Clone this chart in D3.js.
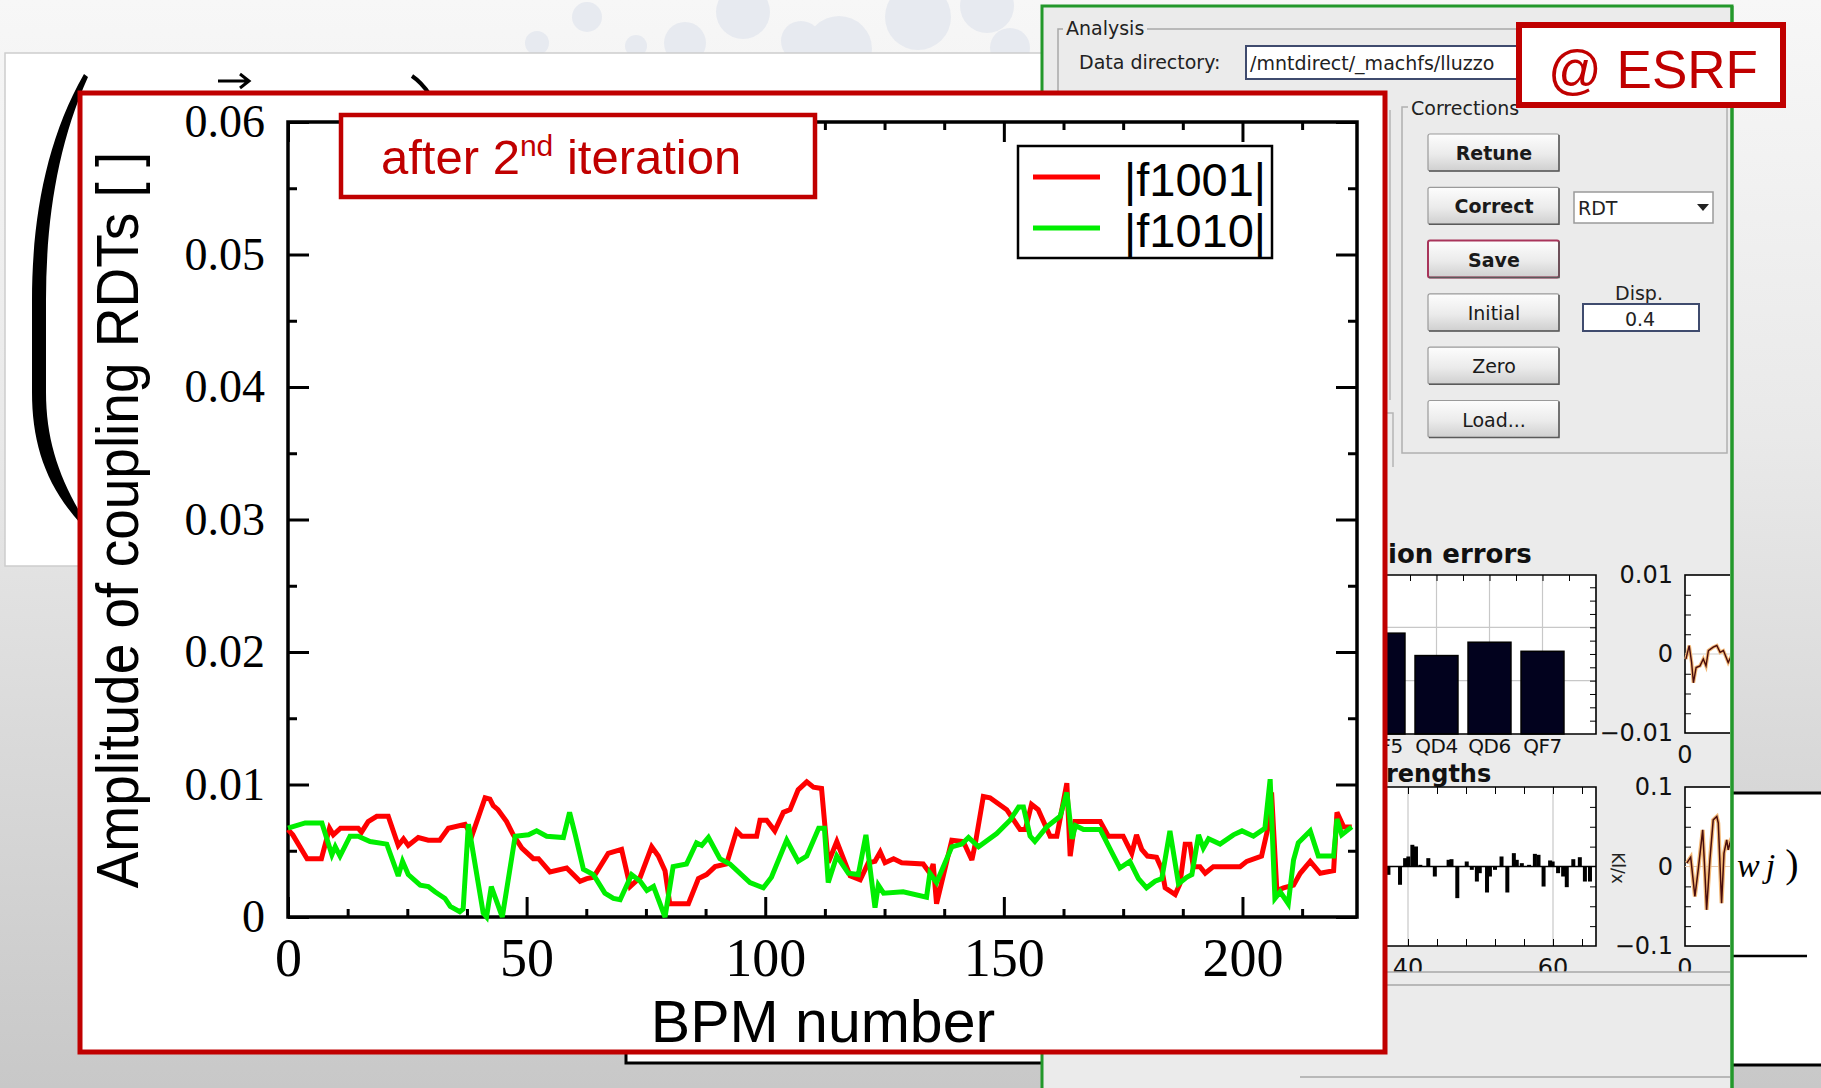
<!DOCTYPE html>
<html>
<head>
<meta charset="utf-8">
<script src="https://cdn.jsdelivr.net/npm/d3@7"></script>
<style>
  html, body { margin: 0; padding: 0; overflow: hidden; background: #e8e8e8; }
  svg { display: block; }
</style>
</head>
<body>
<script>
// Coupling resonance driving terms along the ring, after the 2nd correction iteration.
// Each entry: [BPM number, amplitude]
const f1001 = [
  [0,.0066],[1,.0062],[4,.0044],[7,.0044],[8.7,.0067],[9.5,.0062],[11,.0067],[14.7,.0067],
  [15.4,.0064],[16.8,.0072],[18.6,.0076],[21,.0076],[23.1,.0054],[24.2,.0059],[25.2,.0054],
  [27.3,.0060],[29.4,.0058],[31.8,.0058],[33.6,.0067],[37.1,.0070],[38.5,.0061],[41.3,.0090],
  [42.3,.0089],[43,.0084],[44,.0081],[45.8,.0072],[47.2,.0062],[49,.0052],[51.4,.0044],
  [52.5,.0044],[54.9,.0034],[58.4,.0037],[61.2,.0027],[62.6,.0029],[64,.0030],[67.1,.0048],
  [69.9,.0051],[71.7,.0023],[73.8,.0030],[76.2,.0053],[77.6,.0046],[79,.0035],[80,.0010],
  [83.9,.0010],[86,.0029],[87.7,.0032],[89.5,.0038],[91.9,.0040],[94,.0065],[95.1,.0061],
  [98.2,.0061],[98.9,.0073],[100.3,.0073],[102,.0065],[103.8,.0079],[105.2,.0081],[106.9,.0096],
  [108.7,.0102],[110.1,.0098],[111.8,.0097],[113.2,.0041],[115,.0057],[117.8,.0031],[119.9,.0028],
  [121.6,.0041],[123,.0042],[124.1,.0049],[125.1,.0041],[126.9,.0044],[128.6,.0041],[133.1,.0040],
  [134.5,.0033],[135.2,.0040],[135.9,.0010],[137.3,.0031],[139.1,.0058],[141.5,.0057],[143.3,.0043],
  [144,.0055],[145.7,.0091],[147.1,.0090],[150.6,.0081],[153.4,.0066],[154.5,.0066],[155.8,.0085],
  [157.2,.0081],[159.7,.0061],[161.1,.0061],[163.2,.0101],[163.9,.0046],[164.9,.0072],[170.2,.0072],
  [171.9,.0061],[175,.0061],[176.8,.0048],[177.8,.0062],[178.9,.0051],[180.1,.0046],[182,.0045],
  [183.1,.0036],[183.8,.0022],[185.9,.0017],[186.9,.0025],[188,.0055],[189,.0055],[189.7,.0038],
  [191.1,.0038],[192.2,.0033],[193.9,.0038],[199.5,.0038],[200.9,.0042],[204,.0046],[205.4,.0068],
  [206.1,.0094],[207.2,.0020],[208.6,.0022],[210.7,.0024],[212.1,.0033],[214.2,.0042],[216.3,.0033],
  [219.1,.0035],[219.8,.0079],[221.2,.0068],[222.9,.0068]
];
const f1010 = [
  [0,.0067],[3.6,.0071],[7.1,.0071],[9.2,.0047],[9.9,.0053],[10.9,.0046],[13,.0061],[14.7,.0061],
  [17.2,.0057],[20.7,.0055],[23.1,.0031],[24,.0042],[25.2,.0032],[27.7,.0024],[29.4,.0023],
  [30.8,.0019],[32.9,.0014],[34,.0008],[36,.0004],[36.7,.0006],[37.8,.0070],[40.9,.0003],
  [41.6,.0000],[42.6,.0023],[44.4,.0005],[44.9,.0000],[47.6,.0061],[50.4,.0062],[52.1,.0065],
  [54.2,.0061],[57.7,.0060],[59,.0079],[60.2,.0062],[61.9,.0036],[64,.0032],[66.4,.0018],
  [68.2,.0014],[69.6,.0013],[72,.0032],[73.8,.0027],[75.2,.0020],[76.6,.0023],[79,.0000],
  [80.7,.0038],[83.5,.0040],[85.6,.0056],[86.7,.0054],[88.1,.0060],[90.5,.0044],[92.6,.0040],
  [96.8,.0026],[99.6,.0022],[101.3,.0030],[104.5,.0058],[106.9,.0042],[108.7,.0046],[111.2,.0067],
  [112.4,.0067],[113.2,.0026],[115,.0046],[117.4,.0033],[119.5,.0032],[121.1,.0062],[123,.0007],
  [123.7,.0024],[124.8,.0018],[128.9,.0019],[133.8,.0015],[134.5,.0033],[135.9,.0026],[139.1,.0053],
  [141.2,.0055],[142.6,.0060],[144.7,.0053],[148.5,.0063],[151.3,.0073],[153.1,.0083],[154.1,.0083],
  [155.5,.0061],[156.5,.0057],[159,.0068],[161.8,.0076],[163.2,.0094],[164.3,.0059],[165,.0069],
  [166.7,.0066],[170.2,.0066],[172.3,.0051],[174.3,.0037],[176.4,.0042],[178.2,.0029],[179.9,.0022],
  [181.7,.0027],[183.1,.0029],[184.8,.0065],[186.6,.0025],[188.3,.0030],[189.4,.0032],[190.8,.0062],
  [191.8,.0052],[192.9,.0059],[195.3,.0055],[198.1,.0062],[199.9,.0065],[202.3,.0061],[204.7,.0067],
  [205.8,.0104],[206.8,.0014],[207.9,.0019],[209.6,.0010],[210.7,.0043],[211.7,.0056],[214.2,.0065],
  [215.9,.0046],[219.1,.0046],[219.8,.0074],[220.8,.0062],[222.9,.0068]
];
const seriesNames = ["|f1001|", "|f1010|"];
const yMajorTicks = [0, 0.01, 0.02, 0.03, 0.04, 0.05, 0.06];
const yMinorTicks = [0.005, 0.015, 0.025, 0.035, 0.045, 0.055];
const xMajorTicks = [0, 50, 100, 150, 200];
const xMinorTicks = [12.5, 25, 37.5, 62.5, 75, 87.5, 112.5, 125, 137.5, 162.5, 175, 187.5, 212.5];

// Correction tool panel: rotation errors per family, corrector strengths, orbit traces
const errFamilies = ["QF5", "QD4", "QD6", "QF7"];
const errValues = [1.89, 1.47, 1.72, 1.55];
const strengths = [
  [37.3,-.105],[38.9,-.23],[39.6,.105],[40.05,.126],[40.6,.273],[41.1,.252],[41.7,.021],[42.8,.105],
  [43.7,-.126],[45.6,.084],[46.0,.092],[46.8,-.398],[48.1,.063],[48.8,-.042],[49.5,-.189],[49.9,-.084],
  [50.9,-.327],[51.3,-.126],[52.0,-.042],[52.9,.126],[53.7,-.327],[54.6,.168],[55.0,.084],[55.7,.042],
  [56.7,.021],[57.5,.159],[58.0,.147],[58.7,-.252],[59.6,.076],[59.95,.063],[60.7,-.084],[61.4,-.126],
  [61.9,-.26],[62.8,.092],[63.7,.117],[64.4,-.189],[65.1,-.189]
];
const residualTrace = [
  [0.3,-.00064],[1.4,.00107],[2.2,-.00107],[2.8,-.00364],[3.7,-.00171],[5,-.0015],[6.1,-.00064],
  [7,-.0015],[7.8,.00043],[9.4,.00086],[10.6,.00107],[11.7,.00021],[12.8,.00043],[14.4,-.00107],[16,.0002]
];
const beatTrace = [
  [0.6,.0042],[1.9,.0117],[3.3,-.0377],[4.4,-.0042],[5.9,.0461],[6.7,-.0126],[7.2,-.0545],[8.3,.0084],
  [9.4,.0587],[10.6,.0629],[11.1,.0545],[12.2,-.0461],[13,.0168],[13.9,.0335],[14.4,.021],[15,.0293],[16,.02]
];
const buttonLabels = ["Retune", "Correct", "Save", "Initial", "Zero", "Load..."];

const W = 1821, H = 1088;
const svg = d3.select("body").append("svg").attr("width", W).attr("height", H);
const defs = svg.append("defs");

function vGrad(id, stops) {
  const g = defs.append("linearGradient").attr("id", id)
    .attr("x1", 0).attr("y1", 0).attr("x2", 0).attr("y2", 1);
  stops.forEach(([o, c]) => g.append("stop").attr("offset", o).attr("stop-color", c));
}
vGrad("page", [["0%", "#f7f7f7"], ["40%", "#e9e9e9"], ["100%", "#c8c8c8"]]);
vGrad("btn", [["0%", "#fdfdfd"], ["55%", "#ebebeb"], ["100%", "#cfcfcf"]]);

// ---------- slide background ----------
svg.append("rect").attr("width", W).attr("height", H).attr("fill", "url(#page)");
const bubbles = [[537,43,12],[587,17,15],[636,46,11],[685,43,21],[743,12,27],[801,41,20],[839,49,33],[918,17,33],[987,6,27],[1010,48,20]];
svg.append("g").selectAll("circle").data(bubbles).join("circle")
  .attr("cx", d => d[0]).attr("cy", d => d[1]).attr("r", d => d[2])
  .attr("fill", "#e7eaf0");

// equation panel behind the plot
svg.append("rect").attr("x", 5).attr("y", 53).attr("width", 1060).attr("height", 513)
  .attr("fill", "#fff").attr("stroke", "#cdcdcd").attr("stroke-width", 1.5);
svg.append("path")
  .attr("d", "M84,74 C46,140 32,220 32,300 L32,392 C32,442 45,484 80,523 L84,519 C59,478 46,440 46,392 L46,300 C46,222 57,146 88,77 Z")
  .attr("fill", "#000");
svg.append("path").attr("d", "M218,81 H248 M240,74 L249,81 L240,88")
  .attr("fill", "none").attr("stroke", "#000").attr("stroke-width", 3);
svg.append("path").attr("d", "M412,76 C418,80 424,86 430,95")
  .attr("fill", "none").attr("stroke", "#000").attr("stroke-width", 4);

// formula box on the far right
svg.append("rect").attr("x", 1733).attr("y", 793).attr("width", 90).attr("height", 272).attr("fill", "#fff");
svg.append("path").attr("d", "M1733,793 H1821 M1733,1065 H1821").attr("stroke", "#000").attr("stroke-width", 3);
svg.append("path").attr("d", "M1733,956 H1807").attr("stroke", "#000").attr("stroke-width", 2.5);
const wj = svg.append("text").attr("x", 1737).attr("y", 877)
  .attr("font-family", "Liberation Serif, serif").attr("font-size", 34);
wj.append("tspan").attr("font-style", "italic").text("w");
wj.append("tspan").attr("font-style", "italic").attr("dx", 6).text("j");
wj.append("tspan").attr("dx", 10).attr("font-size", 40).text(")");

// framed box under the plot
svg.append("rect").attr("x", 626).attr("y", 950).attr("width", 440).attr("height", 113)
  .attr("fill", "#fff").attr("stroke", "#000").attr("stroke-width", 3);

// ---------- correction tool window ----------
const gui = svg.append("g");
const guiFont = "DejaVu Sans, Verdana, sans-serif";
gui.append("rect").attr("x", 1042).attr("y", 6).attr("width", 690).attr("height", 1095)
  .attr("fill", "#ebebeb").attr("stroke", "#23982b").attr("stroke-width", 3);

gui.append("path").attr("d", "M1058,110 V29 H1063 M1147,29 H1620")
  .attr("fill", "none").attr("stroke", "#a9a9a9").attr("stroke-width", 1.5);
gui.append("text").attr("x", 1066).attr("y", 35).attr("font-family", guiFont).attr("font-size", 19)
  .attr("fill", "#222").text("Analysis");
gui.append("text").attr("x", 1079).attr("y", 69).attr("font-family", guiFont).attr("font-size", 19)
  .attr("fill", "#222").text("Data directory:");
gui.append("rect").attr("x", 1246).attr("y", 46).attr("width", 285).attr("height", 33)
  .attr("fill", "#fff").attr("stroke", "#3f4b6e").attr("stroke-width", 2);
gui.append("text").attr("x", 1250).attr("y", 70).attr("font-family", guiFont).attr("font-size", 19)
  .attr("fill", "#222").text("/mntdirect/_machfs/lluzzo");

// group frames left of the corrections group
gui.append("path").attr("d", "M1390,110 V400 M1386,413 H1393 V467")
  .attr("fill", "none").attr("stroke", "#b5b5b5").attr("stroke-width", 1.5);

// corrections group
gui.append("rect").attr("x", 1402).attr("y", 107).attr("width", 325).attr("height", 346)
  .attr("fill", "none").attr("stroke", "#b0b0b0").attr("stroke-width", 1.5);
gui.append("rect").attr("x", 1408).attr("y", 98).attr("width", 122).attr("height", 20).attr("fill", "#ebebeb");
gui.append("text").attr("x", 1411).attr("y", 115).attr("font-family", guiFont).attr("font-size", 19)
  .attr("fill", "#222").text("Corrections");

const btn = gui.append("g").selectAll("g").data(buttonLabels).join("g")
  .attr("transform", (d, i) => `translate(1428,${134 + i * 53.3})`);
btn.append("rect").attr("width", 131).attr("height", 37).attr("rx", 2)
  .attr("fill", "url(#btn)")
  .attr("stroke", d => d === "Save" ? "#a8345a" : "#9a9a9a")
  .attr("stroke-width", d => d === "Save" ? 2 : 1.2);
btn.append("path").attr("d", "M1,37 H131 V1").attr("fill", "none").attr("stroke", "#5a5a5a").attr("stroke-width", 1.5);
btn.append("text").attr("x", 66).attr("y", 26).attr("text-anchor", "middle")
  .attr("font-family", guiFont).attr("font-size", 19)
  .attr("font-weight", (d, i) => i < 3 ? "bold" : "normal")
  .attr("fill", "#1a1a1a").text(d => d);

// method selector
gui.append("rect").attr("x", 1574).attr("y", 192).attr("width", 139).attr("height", 31)
  .attr("fill", "#fff").attr("stroke", "#9a9a9a").attr("stroke-width", 1.5);
gui.append("text").attr("x", 1578).attr("y", 215).attr("font-family", guiFont).attr("font-size", 19)
  .attr("fill", "#222").text("RDT");
gui.append("path").attr("d", "M1697,204 L1709,204 L1703,211 Z").attr("fill", "#222");

gui.append("text").attr("x", 1639).attr("y", 300).attr("text-anchor", "middle")
  .attr("font-family", guiFont).attr("font-size", 19).attr("fill", "#222").text("Disp.");
gui.append("rect").attr("x", 1583).attr("y", 304).attr("width", 116).attr("height", 27)
  .attr("fill", "#fff").attr("stroke", "#3f4b6e").attr("stroke-width", 2);
gui.append("text").attr("x", 1640).attr("y", 326).attr("text-anchor", "middle")
  .attr("font-family", guiFont).attr("font-size", 19).attr("fill", "#222").text("0.4");

// rotation errors bar chart
gui.append("text").attr("x", 1388).attr("y", 563).attr("font-family", guiFont).attr("font-size", 26)
  .attr("font-weight", "bold").attr("fill", "#111").text("ion errors");
const eb = { l: 1357, r: 1596, t: 575, b: 734 };
const exS = d3.scaleBand().domain(errFamilies).range([1357, 1569]).paddingInner(0.19).paddingOuter(0.095);
const eyS = d3.scaleLinear().domain([0, 2.98]).range([eb.b, eb.t]);
gui.append("rect").attr("x", eb.l).attr("y", eb.t).attr("width", eb.r - eb.l).attr("height", eb.b - eb.t).attr("fill", "#fff");
gui.append("g").selectAll("line.gy").data([1, 2]).join("line")
  .attr("x1", eb.l).attr("x2", eb.r).attr("y1", d => eyS(d)).attr("y2", d => eyS(d))
  .attr("stroke", "#c8c8c8").attr("stroke-width", 1.2);
gui.append("g").selectAll("line.gx").data(errFamilies.slice(1)).join("line")
  .attr("x1", d => exS(d) + exS.bandwidth() / 2).attr("x2", d => exS(d) + exS.bandwidth() / 2)
  .attr("y1", eb.t).attr("y2", eb.b).attr("stroke", "#c8c8c8").attr("stroke-width", 1.2);
gui.append("g").selectAll("rect").data(errValues).join("rect")
  .attr("x", (d, i) => exS(errFamilies[i])).attr("width", exS.bandwidth())
  .attr("y", d => eyS(d)).attr("height", d => eyS(0) - eyS(d))
  .attr("fill", "#02021e").attr("stroke", "#000").attr("stroke-width", 1.5);
gui.append("g").attr("transform", `translate(${eb.r},0)`)
  .call(d3.axisRight(eyS).tickValues(d3.range(0.25, 2.9, 0.25)).tickSize(-6).tickFormat(""))
  .call(g => g.select(".domain").remove());
gui.append("g").attr("transform", `translate(0,${eb.t})`)
  .call(d3.axisTop(d3.scaleLinear().domain([0, 8]).range([1357, 1569])).tickValues([1,2,3,4,5,6,7,8]).tickSize(-6).tickFormat(""))
  .call(g => g.select(".domain").remove());
gui.append("path").attr("d", `M${eb.l},${eb.t} H${eb.r} V${eb.b} H${eb.l}`)
  .attr("fill", "none").attr("stroke", "#000").attr("stroke-width", 1.6);
gui.append("g").selectAll("text").data(errFamilies).join("text")
  .attr("x", d => exS(d) + exS.bandwidth() / 2).attr("y", 753).attr("text-anchor", "middle")
  .attr("font-family", guiFont).attr("font-size", 20).attr("letter-spacing", -0.5)
  .attr("fill", "#111").text(d => d);

// residual orbit trace
const smallFont = { "font-family": guiFont, "font-size": 24, "fill": "#111" };
function small(g, attrs) { Object.entries(attrs).forEach(([k, v]) => g.attr(k, v)); return g; }
defs.append("clipPath").attr("id", "guiClip").append("rect").attr("x", 1042).attr("y", 6).attr("width", 688).attr("height", 1082);
const pa = { l: 1685, t: 575, b: 733 };
const paX = d3.scaleLinear().domain([0, 1]).range([1685, 1688]);
const paY = d3.scaleLinear().domain([-0.01, 0.01]).range([pa.b, pa.t]);
const clipG = gui.append("g").attr("clip-path", "url(#guiClip)");
clipG.append("rect").attr("x", pa.l).attr("y", pa.t).attr("width", 80).attr("height", pa.b - pa.t)
  .attr("fill", "#fff").attr("stroke", "#000").attr("stroke-width", 1.6);
clipG.append("line").attr("x1", pa.l).attr("x2", pa.l + 80).attr("y1", paY(0)).attr("y2", paY(0)).attr("stroke", "#ccc");
clipG.append("g").attr("transform", `translate(${pa.l},0)`)
  .call(d3.axisLeft(paY).tickValues(d3.range(-0.0075, 0.0076, 0.0025)).tickSize(-6).tickFormat(""))
  .call(g => g.select(".domain").remove());
const lineA = d3.line().x(d => paX(d[0])).y(d => paY(d[1]));
clipG.append("path").datum(residualTrace).attr("d", lineA).attr("fill", "none").attr("stroke", "#f3b978").attr("stroke-width", 3.5);
clipG.append("path").datum(residualTrace).attr("d", lineA).attr("fill", "none").attr("stroke", "#4a0c0c").attr("stroke-width", 1.4);
gui.append("g").selectAll("text").data([0.01, 0, -0.01]).join("text")
  .attr("x", 1673).attr("y", d => paY(d) + 8).attr("text-anchor", "end")
  .each(function () { small(d3.select(this), smallFont); })
  .text(d => d === 0 ? "0" : d3.format(".2f")(d));
small(gui.append("text").attr("x", 1685).attr("y", 763).attr("text-anchor", "middle"), smallFont).text("0");

// corrector strengths
gui.append("text").attr("x", 1386).attr("y", 782).attr("font-family", guiFont).attr("font-size", 24)
  .attr("font-weight", "bold").attr("fill", "#111").text("rengths");
const sb = { l: 1357, r: 1596, t: 787, b: 946 };
const sxS = d3.scaleLinear().domain([40, 60]).range([1408, 1553]);
const syS = d3.scaleLinear().domain([-1, 1]).range([sb.b, sb.t]);
gui.append("rect").attr("x", sb.l).attr("y", sb.t).attr("width", sb.r - sb.l).attr("height", sb.b - sb.t).attr("fill", "#fff");
gui.append("g").selectAll("line").data([40, 60]).join("line")
  .attr("x1", d => sxS(d)).attr("x2", d => sxS(d)).attr("y1", sb.t).attr("y2", sb.b)
  .attr("stroke", "#c8c8c8").attr("stroke-width", 1.2);
gui.append("line").attr("x1", sb.l).attr("x2", sb.r).attr("y1", syS(0)).attr("y2", syS(0)).attr("stroke", "#000").attr("stroke-width", 1.6);
gui.append("g").selectAll("rect").data(strengths).join("rect")
  .attr("x", d => sxS(d[0]) - 2).attr("width", 4)
  .attr("y", d => syS(Math.max(0, d[1]))).attr("height", d => Math.abs(syS(d[1]) - syS(0)))
  .attr("fill", "#000");
[["axisTop", sb.t], ["axisBottom", sb.b]].forEach(([ax, yy]) => {
  gui.append("g").attr("transform", `translate(0,${yy})`)
    .call(d3[ax](sxS).tickValues([36, 40, 44, 48, 52, 56, 60, 64]).tickSize(-7).tickFormat(""))
    .call(g => g.select(".domain").remove());
});
gui.append("g").attr("transform", `translate(${sb.r},0)`)
  .call(d3.axisRight(syS).tickValues([-0.75, -0.5, -0.25, 0.25, 0.5, 0.75]).tickSize(-6).tickFormat(""))
  .call(g => g.select(".domain").remove());
gui.append("path").attr("d", `M${sb.l},${sb.t} H${sb.r} V${sb.b} H${sb.l}`)
  .attr("fill", "none").attr("stroke", "#000").attr("stroke-width", 1.6);
gui.append("text").attr("transform", "translate(1612,868) rotate(90)").attr("text-anchor", "middle")
  .attr("font-family", guiFont).attr("font-size", 17).attr("fill", "#222").text("Kl/x");
gui.append("g").selectAll("text").data([40, 60]).join("text")
  .attr("x", d => sxS(d)).attr("y", 976).attr("text-anchor", "middle")
  .each(function () { small(d3.select(this), smallFont); }).text(d => d);

// beating trace
const pb = { l: 1685, t: 787, b: 946 };
const pbY = d3.scaleLinear().domain([-0.1, 0.1]).range([pb.b, pb.t]);
clipG.append("rect").attr("x", pb.l).attr("y", pb.t).attr("width", 80).attr("height", pb.b - pb.t)
  .attr("fill", "#fff").attr("stroke", "#000").attr("stroke-width", 1.6);
clipG.append("line").attr("x1", pb.l).attr("x2", pb.l + 80).attr("y1", pbY(0)).attr("y2", pbY(0)).attr("stroke", "#e6c8b0");
clipG.append("g").attr("transform", `translate(${pb.l},0)`)
  .call(d3.axisLeft(pbY).tickValues([-0.075, -0.05, -0.025, 0.025, 0.05, 0.075]).tickSize(-6).tickFormat(""))
  .call(g => g.select(".domain").remove());
const lineB = d3.line().x(d => paX(d[0])).y(d => pbY(d[1]));
clipG.append("path").datum(beatTrace).attr("d", lineB).attr("fill", "none").attr("stroke", "#f3b978").attr("stroke-width", 4);
clipG.append("path").datum(beatTrace).attr("d", lineB).attr("fill", "none").attr("stroke", "#4a0c0c").attr("stroke-width", 1.5);
gui.append("g").selectAll("text").data([0.1, 0, -0.1]).join("text")
  .attr("x", 1673).attr("y", d => pbY(d) + 8).attr("text-anchor", "end")
  .each(function () { small(d3.select(this), smallFont); })
  .text(d => d === 0 ? "0" : d3.format(".1f")(d));
small(gui.append("text").attr("x", 1685).attr("y", 976).attr("text-anchor", "middle"), smallFont).text("0");

// lower strip of the window
gui.append("rect").attr("x", 1300).attr("y", 972).attr("width", 430).attr("height", 116).attr("fill", "#ebebeb");
gui.append("path").attr("d", "M1300,972 H1730 M1300,985 H1730 M1300,1077 H1730")
  .attr("stroke", "#a8a8a8").attr("stroke-width", 1.5);
gui.append("line").attr("x1", 1732).attr("x2", 1732).attr("y1", 6).attr("y2", 1088).attr("stroke", "#23982b").attr("stroke-width", 3);

// ---------- main plot ----------
svg.append("rect").attr("x", 80).attr("y", 93).attr("width", 1305).attr("height", 959)
  .attr("fill", "#fff").attr("stroke", "#c00000").attr("stroke-width", 5);

const plot = { l: 288, r: 1357, t: 122, b: 917 };
const x = d3.scaleLinear().domain([0, 224]).range([plot.l, plot.r]);
const y = d3.scaleLinear().domain([0, 0.06]).range([plot.b, plot.t]);
const serif = "Liberation Serif, Times New Roman, serif";
const sans = "Liberation Sans, Arial, Helvetica, sans-serif";

function styleAxis(g) {
  g.select(".domain").remove();
  g.selectAll(".tick line").attr("stroke", "#000").attr("stroke-width", 3);
}
const yFmt = d => d === 0 ? "0" : d3.format(".2f")(d);

svg.append("g").attr("transform", `translate(${plot.l},0)`)
  .call(d3.axisLeft(y).tickValues(yMajorTicks).tickSize(-21).tickPadding(23).tickFormat(yFmt))
  .call(styleAxis)
  .call(g => g.selectAll("text").attr("font-family", serif).attr("font-size", 46).attr("fill", "#000"));
svg.append("g").attr("transform", `translate(${plot.l},0)`)
  .call(d3.axisLeft(y).tickValues(yMinorTicks).tickSize(-9).tickFormat("")).call(styleAxis);
svg.append("g").attr("transform", `translate(${plot.r},0)`)
  .call(d3.axisRight(y).tickValues(yMajorTicks).tickSize(-21).tickFormat("")).call(styleAxis);
svg.append("g").attr("transform", `translate(${plot.r},0)`)
  .call(d3.axisRight(y).tickValues(yMinorTicks).tickSize(-9).tickFormat("")).call(styleAxis);

svg.append("g").attr("transform", `translate(0,${plot.b})`)
  .call(d3.axisBottom(x).tickValues(xMajorTicks).tickSize(-20).tickPadding(21).tickFormat(d3.format("d")))
  .call(styleAxis)
  .call(g => g.selectAll("text").attr("font-family", serif).attr("font-size", 54).attr("fill", "#000"));
svg.append("g").attr("transform", `translate(0,${plot.b})`)
  .call(d3.axisBottom(x).tickValues(xMinorTicks).tickSize(-8).tickFormat("")).call(styleAxis);
svg.append("g").attr("transform", `translate(0,${plot.t})`)
  .call(d3.axisTop(x).tickValues(xMajorTicks).tickSize(-20).tickFormat("")).call(styleAxis);
svg.append("g").attr("transform", `translate(0,${plot.t})`)
  .call(d3.axisTop(x).tickValues(xMinorTicks).tickSize(-8).tickFormat("")).call(styleAxis);

svg.append("rect").attr("x", plot.l).attr("y", plot.t).attr("width", plot.r - plot.l).attr("height", plot.b - plot.t)
  .attr("fill", "none").attr("stroke", "#000").attr("stroke-width", 3.5);

// axis titles
svg.append("text").attr("transform", "translate(138,520) scale(1.08,1) rotate(-90)")
  .attr("text-anchor", "middle").attr("font-family", sans).attr("font-size", 55).attr("fill", "#000")
  .text("Amplitude of coupling RDTs [ ]");
svg.append("text").attr("x", 823).attr("y", 1042).attr("text-anchor", "middle")
  .attr("font-family", sans).attr("font-size", 59).attr("fill", "#000").text("BPM number");

// data lines
const line = d3.line().x(d => x(d[0])).y(d => y(d[1]));
const colors = ["#ff0000", "#00ee00"];
[f1001, f1010].forEach((s, i) => {
  svg.append("path").datum(s).attr("d", line).attr("fill", "none")
    .attr("stroke", colors[i]).attr("stroke-width", 5)
    .attr("stroke-linejoin", "miter").attr("stroke-miterlimit", 3);
});

// legend
svg.append("rect").attr("x", 1018).attr("y", 146).attr("width", 254).attr("height", 112)
  .attr("fill", "#fff").attr("stroke", "#000").attr("stroke-width", 2.5);
const leg = svg.append("g").selectAll("g").data(seriesNames).join("g")
  .attr("transform", (d, i) => `translate(0,${177 + i * 51})`);
leg.append("line").attr("x1", 1033).attr("x2", 1100).attr("y1", 0).attr("y2", 0)
  .attr("stroke", (d, i) => colors[i]).attr("stroke-width", 5);
leg.append("text").attr("x", 1124).attr("y", 19).attr("font-family", sans).attr("font-size", 47)
  .attr("fill", "#000").text(d => d);

// iteration label
svg.append("rect").attr("x", 341).attr("y", 115).attr("width", 474).attr("height", 82)
  .attr("fill", "#fff").attr("stroke", "#c00000").attr("stroke-width", 4.5);
const title = svg.append("text").attr("x", 381).attr("y", 174).attr("font-family", sans)
  .attr("font-size", 49).attr("fill", "#c00000");
title.append("tspan").text("after 2");
title.append("tspan").attr("font-size", 30).attr("dy", -18).text("nd");
title.append("tspan").attr("dy", 18).text(" iteration");

// site label
svg.append("rect").attr("x", 1519).attr("y", 25).attr("width", 264).attr("height", 80)
  .attr("fill", "#fff").attr("stroke", "#c00000").attr("stroke-width", 6);
svg.append("text").attr("x", 1653).attr("y", 88).attr("text-anchor", "middle")
  .attr("font-family", sans).attr("font-size", 53).attr("fill", "#c00000").text("@ ESRF");
</script>
</body>
</html>
